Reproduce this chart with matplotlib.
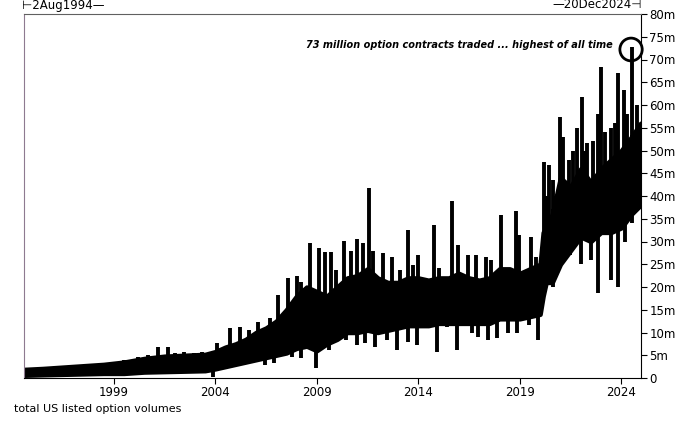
import numpy as np
import matplotlib
matplotlib.use('Agg')
import matplotlib.pyplot as plt
from matplotlib.patches import Ellipse

# Values (millions of contracts), time in decimal years
# core daily range
band_year = [1994.6, 1995.5, 1996.5, 1997.5, 1998.5, 1999.5, 2000.5, 2001.5, 2002.5,
             2003.5, 2004.0, 2004.5, 2005.0, 2005.5, 2006.0, 2006.5, 2007.0, 2007.5,
             2008.0, 2008.5, 2009.0, 2009.5, 2010.0, 2010.5, 2011.0, 2011.5, 2012.0,
             2012.5, 2013.0, 2013.5, 2014.0, 2014.5, 2015.0, 2015.5, 2016.0, 2016.5,
             2017.0, 2017.5, 2018.0, 2018.5, 2019.0, 2019.5, 2020.0, 2020.15, 2020.3,
             2020.6, 2021.0, 2021.5, 2022.0, 2022.5, 2023.0, 2023.5, 2024.0, 2024.5,
             2024.95]
band_low = [0.6, 0.7, 0.8, 0.9, 1.0, 1.0, 1.3, 1.4, 1.5,
            1.6, 2.0, 2.5, 3.0, 3.5, 4.0, 4.5, 5.0, 5.5,
            6.5, 7.0, 6.0, 7.5, 8.5, 10.0, 10.0, 10.5, 10.0,
            10.5, 11.0, 11.5, 11.5, 11.5, 12.0, 12.0, 12.0, 12.0,
            12.0, 12.0, 13.0, 13.0, 13.0, 13.5, 14.0, 18.0, 21.0,
            21.0, 25.0, 28.0, 31.0, 30.0, 32.0, 32.0, 33.0, 36.0,
            38.0]
band_high = [1.9, 2.1, 2.4, 2.7, 3.0, 3.5, 4.3, 4.8, 5.0,
             5.2, 5.8, 6.8, 7.5, 8.5, 10.0, 11.0, 12.5, 15.0,
             18.0, 20.0, 19.0, 18.0, 20.0, 22.0, 22.5, 24.0, 22.0,
             21.0, 21.0, 22.0, 22.0, 21.5, 22.0, 22.0, 23.0, 22.0,
             21.5, 22.0, 24.0, 24.0, 23.0, 24.0, 25.0, 32.0, 33.0,
             36.0, 44.0, 42.0, 46.0, 43.0, 46.0, 48.0, 50.0, 53.0,
             56.0]

# single-day highs
spike_year = [1995.5, 1996.3, 1997.2, 1998.4, 1999.5, 2000.2, 2000.7, 2001.2, 2001.69,
              2002.0, 2002.44, 2002.93, 2003.37, 2004.1, 2004.75, 2005.24, 2005.64,
              2006.13, 2006.72, 2007.11, 2007.56, 2008.05, 2008.2, 2008.69, 2009.13,
              2009.43, 2009.68, 2009.93, 2010.32, 2010.67, 2010.96, 2011.26, 2011.55,
              2011.79, 2012.24, 2012.73, 2013.12, 2013.47, 2013.76, 2014.01, 2014.75,
              2015.0, 2015.24, 2015.64, 2015.98, 2016.43, 2016.82, 2017.36, 2017.56,
              2018.05, 2018.79, 2018.94, 2019.53, 2019.78, 2020.17, 2020.3, 2020.42,
              2020.66, 2020.8, 2021.0, 2021.15, 2021.4, 2021.6, 2021.84, 2022.04,
              2022.2, 2022.33, 2022.6, 2022.83, 2023.02, 2023.22, 2023.47, 2023.7,
              2023.86, 2024.11, 2024.3, 2024.55, 2024.75]
spike_high = [2.3, 2.6, 2.8, 3.3, 3.9, 4.6, 5.0, 6.8, 6.8,
              5.5, 5.7, 5.5, 5.7, 7.7, 11.0, 11.2, 10.5,
              12.3, 13.2, 18.2, 22.0, 22.4, 21.0, 29.7, 28.6,
              27.7, 27.7, 23.7, 30.1, 28.0, 30.5, 29.7, 41.8,
              28.0, 27.5, 26.6, 23.7, 32.5, 24.8, 27.0, 33.6,
              24.2, 22.0, 39.0, 29.2, 27.0, 27.0, 26.6, 26.0,
              35.8, 36.7, 31.4, 31.0, 26.6, 47.5, 40.0, 46.8,
              43.5, 40.0, 57.4, 53.0, 48.0, 50.0, 55.0, 61.8,
              50.0, 51.6, 52.0, 58.0, 68.4, 54.0, 55.0, 56.0,
              67.0, 63.3, 58.0, 72.7, 60.0]

# single-day lows
dip_year = [1999.0, 2001.0, 2002.5, 2003.9, 2004.9, 2005.73, 2006.47, 2006.87, 2007.8,
            2008.2, 2008.94, 2009.58, 2010.42, 2011.0, 2011.4, 2011.89, 2012.48,
            2012.97, 2013.47, 2013.96, 2014.94, 2015.43, 2015.93, 2016.67, 2016.96,
            2017.45, 2017.9, 2018.44, 2018.88, 2019.43, 2019.92, 2020.66, 2021.45,
            2022.0, 2022.5, 2022.83, 2023.47, 2023.86, 2024.2, 2024.55]
dip_low = [0.8, 1.0, 1.0, 0.3, 3.3, 3.5, 2.9, 3.3, 4.6,
           4.4, 2.2, 6.2, 8.4, 7.3, 7.7, 6.8, 8.4,
           6.2, 7.9, 7.3, 5.7, 11.2, 6.2, 9.9, 9.0,
           8.4, 8.8, 9.9, 9.9, 11.6, 8.4, 20.0, 27.0,
           25.0, 26.0, 18.7, 21.5, 20.0, 30.0, 34.0]

y_ticks = [0, 5, 10, 15, 20, 25, 30, 35, 40, 45, 50, 55, 60, 65, 70, 75, 80]
y_labels = ['0'] + ['%dm' % v for v in y_ticks[1:]]
x_ticks = [1999, 2004, 2009, 2014, 2019, 2024]
x_start, x_end = 1994.58, 2024.97

fig = plt.figure(figsize=(6.8, 4.22), dpi=100)
ax = fig.add_axes([24 / 680, 1 - 378 / 422, 617 / 680, 364 / 422])

ax.fill_between(band_year, band_low, band_high, color='black', lw=3.2, edgecolor='black')
lo_at_spike = np.interp(spike_year, band_year, band_low)
ax.vlines(spike_year, lo_at_spike, spike_high, color='black', lw=2.8)
hi_at_dip = np.interp(dip_year, band_year, band_high)
ax.vlines(dip_year, dip_low, hi_at_dip, color='black', lw=2.8)

ax.set_xlim(x_start, x_end)
ax.set_ylim(0, 80)
ax.yaxis.tick_right()
ax.set_yticks(y_ticks)
ax.set_yticklabels(y_labels)
ax.set_xticks(x_ticks)
ax.set_xticklabels([str(y) for y in x_ticks])
ax.tick_params(labelsize=8.5, length=4, width=0.8, pad=2)

ax.spines['left'].set_color('#8e7a90')
ax.spines['top'].set_color('#606060')
for s in ['bottom', 'right']:
    ax.spines[s].set_color('black')

# peak annotation
ax.text(0.955, 0.915, '73 million option contracts traded ... highest of all time',
        transform=ax.transAxes, ha='right', va='center', fontsize=7,
        fontweight='bold', fontstyle='italic')
ax.add_patch(Ellipse((2024.48, 72.2), 1.1, 5.0, fill=False, lw=2, ec='black', clip_on=False))

# date range markers
fig.text(22 / 680, 1 - 5 / 422, '\u22a22Aug1994\u2014', ha='left', va='center', fontsize=8.5)
fig.text(642 / 680, 1 - 5 / 422, '\u201420Dec2024\u22a3', ha='right', va='center', fontsize=8.5)

fig.text(14 / 680, 1 - 409 / 422, 'total US listed option volumes', ha='left', va='center', fontsize=8)

fig.savefig('out.png', dpi=100)
